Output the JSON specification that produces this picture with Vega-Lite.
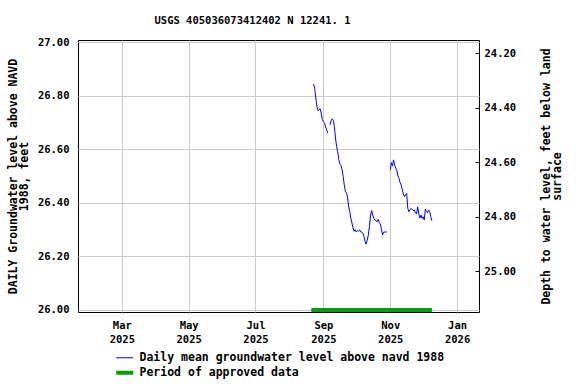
{
  "$schema": "https://vega.github.io/schema/vega-lite/v6.json",
  "autosize": {"type": "none"},
  "width": 401,
  "height": 272,
  "padding": {"left": 78, "top": 40, "right": 97, "bottom": 72},
  "background": "white",
  "title": {
    "text": "USGS 405036073412402 N 12241. 1",
    "font": "DejaVu Sans Mono",
    "fontWeight": "bold",
    "fontSize": 10.5,
    "color": "black",
    "anchor": "middle",
    "frame": "group",
    "baseline": "alphabetic",
    "dx": -26,
    "offset": 3
  },
  "config": {
    "font": "DejaVu Sans Mono",
    "view": {"stroke": "black", "strokeWidth": 1},
    "axis": {
      "labelFont": "DejaVu Sans Mono",
      "labelFontWeight": "bold",
      "labelFontSize": 10.5,
      "labelColor": "black",
      "titleFont": "DejaVu Sans Mono",
      "titleFontWeight": "bold",
      "titleFontSize": 11.5,
      "titleColor": "black",
      "gridColor": "#cccccc",
      "gridWidth": 1,
      "domain": false,
      "ticks": false
    }
  },
  "datasets": {
    "gw": [
      {"date": "2025-08-23", "level": 26.843},
      {"date": "2025-08-24", "level": 26.828},
      {"date": "2025-08-25", "level": 26.791},
      {"date": "2025-08-26", "level": 26.761},
      {"date": "2025-08-27", "level": 26.744},
      {"date": "2025-08-28", "level": 26.747},
      {"date": "2025-08-29", "level": 26.751},
      {"date": "2025-08-30", "level": 26.735},
      {"date": "2025-08-31", "level": 26.711},
      {"date": "2025-09-01", "level": 26.702},
      {"date": "2025-09-02", "level": 26.698},
      {"date": "2025-09-03", "level": 26.683},
      {"date": "2025-09-04", "level": 26.672},
      {"date": "2025-09-05", "level": 26.660},
      {"date": "2025-09-06", "level": null},
      {"date": "2025-09-07", "level": 26.691},
      {"date": "2025-09-08", "level": 26.706},
      {"date": "2025-09-09", "level": 26.713},
      {"date": "2025-09-10", "level": 26.708},
      {"date": "2025-09-11", "level": 26.685},
      {"date": "2025-09-12", "level": 26.642},
      {"date": "2025-09-13", "level": 26.611},
      {"date": "2025-09-14", "level": 26.592},
      {"date": "2025-09-15", "level": 26.561},
      {"date": "2025-09-16", "level": 26.545},
      {"date": "2025-09-17", "level": 26.540},
      {"date": "2025-09-18", "level": 26.524},
      {"date": "2025-09-19", "level": 26.499},
      {"date": "2025-09-20", "level": 26.468},
      {"date": "2025-09-21", "level": 26.443},
      {"date": "2025-09-22", "level": 26.437},
      {"date": "2025-09-23", "level": 26.422},
      {"date": "2025-09-24", "level": 26.387},
      {"date": "2025-09-25", "level": 26.368},
      {"date": "2025-09-26", "level": 26.343},
      {"date": "2025-09-27", "level": 26.325},
      {"date": "2025-09-28", "level": 26.306},
      {"date": "2025-09-29", "level": 26.294},
      {"date": "2025-09-30", "level": 26.300},
      {"date": "2025-10-01", "level": 26.291},
      {"date": "2025-10-02", "level": 26.296},
      {"date": "2025-10-03", "level": 26.295},
      {"date": "2025-10-04", "level": 26.299},
      {"date": "2025-10-05", "level": 26.291},
      {"date": "2025-10-06", "level": 26.290},
      {"date": "2025-10-07", "level": 26.287},
      {"date": "2025-10-08", "level": 26.275},
      {"date": "2025-10-09", "level": 26.256},
      {"date": "2025-10-10", "level": 26.246},
      {"date": "2025-10-11", "level": 26.261},
      {"date": "2025-10-12", "level": 26.280},
      {"date": "2025-10-13", "level": 26.311},
      {"date": "2025-10-14", "level": 26.354},
      {"date": "2025-10-15", "level": 26.371},
      {"date": "2025-10-16", "level": 26.354},
      {"date": "2025-10-17", "level": 26.342},
      {"date": "2025-10-18", "level": 26.336},
      {"date": "2025-10-19", "level": 26.333},
      {"date": "2025-10-20", "level": 26.329},
      {"date": "2025-10-21", "level": 26.338},
      {"date": "2025-10-22", "level": 26.326},
      {"date": "2025-10-23", "level": 26.321},
      {"date": "2025-10-24", "level": 26.299},
      {"date": "2025-10-25", "level": 26.280},
      {"date": "2025-10-26", "level": 26.290},
      {"date": "2025-10-27", "level": 26.291},
      {"date": "2025-10-28", "level": 26.291},
      {"date": "2025-10-29", "level": 26.291},
      {"date": "2025-10-30", "level": null},
      {"date": "2025-10-31", "level": null},
      {"date": "2025-11-01", "level": 26.522},
      {"date": "2025-11-02", "level": 26.550},
      {"date": "2025-11-03", "level": 26.537},
      {"date": "2025-11-04", "level": 26.560},
      {"date": "2025-11-05", "level": 26.541},
      {"date": "2025-11-06", "level": 26.529},
      {"date": "2025-11-07", "level": 26.520},
      {"date": "2025-11-08", "level": 26.500},
      {"date": "2025-11-09", "level": 26.491},
      {"date": "2025-11-10", "level": 26.475},
      {"date": "2025-11-11", "level": 26.466},
      {"date": "2025-11-12", "level": 26.448},
      {"date": "2025-11-13", "level": 26.433},
      {"date": "2025-11-14", "level": 26.423},
      {"date": "2025-11-15", "level": 26.429},
      {"date": "2025-11-16", "level": 26.435},
      {"date": "2025-11-17", "level": 26.379},
      {"date": "2025-11-18", "level": 26.367},
      {"date": "2025-11-19", "level": 26.375},
      {"date": "2025-11-20", "level": 26.378},
      {"date": "2025-11-21", "level": 26.376},
      {"date": "2025-11-22", "level": 26.371},
      {"date": "2025-11-23", "level": 26.373},
      {"date": "2025-11-24", "level": 26.363},
      {"date": "2025-11-25", "level": 26.358},
      {"date": "2025-11-26", "level": 26.385},
      {"date": "2025-11-27", "level": 26.361},
      {"date": "2025-11-28", "level": 26.343},
      {"date": "2025-11-29", "level": 26.354},
      {"date": "2025-11-30", "level": 26.342},
      {"date": "2025-12-01", "level": 26.348},
      {"date": "2025-12-02", "level": 26.336},
      {"date": "2025-12-03", "level": 26.376},
      {"date": "2025-12-04", "level": 26.367},
      {"date": "2025-12-05", "level": 26.363},
      {"date": "2025-12-06", "level": 26.373},
      {"date": "2025-12-07", "level": 26.367},
      {"date": "2025-12-08", "level": 26.348},
      {"date": "2025-12-09", "level": 26.333}
    ],
    "approved": [
      {"start": "2025-08-21", "end": "2025-12-09", "level": 26.0}
    ],
    "depthaxis": [
      {"depth": 24.2},
      {"depth": 25.0}
    ]
  },
  "layer": [
    {
      "layer": [
        {
          "data": {"name": "gw"},
          "mark": {"type": "line", "strokeWidth": 1, "invalid": "break-paths-show-domains", "clip": true},
          "encoding": {
            "x": {
              "field": "date",
              "type": "temporal",
              "scale": {
                "type": "utc",
                "domain": [
                  {"year": 2025, "month": 1, "date": 20, "utc": true},
                  {"year": 2026, "month": 1, "date": 21, "utc": true}
                ]
              },
              "axis": {
                "title": null,
                "values": [
                  {"year": 2025, "month": 3, "date": 1, "utc": true},
                  {"year": 2025, "month": 5, "date": 1, "utc": true},
                  {"year": 2025, "month": 7, "date": 1, "utc": true},
                  {"year": 2025, "month": 9, "date": 1, "utc": true},
                  {"year": 2025, "month": 11, "date": 1, "utc": true},
                  {"year": 2026, "month": 1, "date": 1, "utc": true}
                ],
                "labelExpr": "[utcFormat(datum.value, '%b'), utcFormat(datum.value, '%Y')]",
                "labelLineHeight": 14,
                "labelPadding": 8.5,
                "labelBaseline": "top",
                "grid": true
              }
            },
            "y": {
              "field": "level",
              "type": "quantitative",
              "scale": {"domain": [25.9925, 27.0075], "zero": false, "nice": false},
              "axis": {
                "orient": "left",
                "values": [26.0, 26.2, 26.4, 26.6, 26.8, 27.0],
                "format": ".2f",
                "labelPadding": 9,
                "grid": true,
                "title": ["DAILY Groundwater level above NAVD", "1988, feet"],
                "titleLineHeight": 11,
                "titlePadding": 8
              }
            },
            "color": {
              "datum": "Daily mean groundwater level above navd 1988",
              "type": "nominal",
              "scale": {
                "domain": ["Daily mean groundwater level above navd 1988", "Period of approved data"],
                "range": ["#0000FF", "#00A000"]
              },
              "legend": {
                "title": null,
                "orient": "none",
                "legendX": 41,
                "legendY": 312,
                "padding": 0,
                "symbolType": "stroke",
                "symbolSize": 289,
                "rowPadding": 0,
                "labelOffset": 9,
                "labelFont": "DejaVu Sans Mono",
                "labelFontWeight": "bold",
                "labelFontSize": 11.5,
                "labelColor": "black",
                "labelLimit": 500,
                "encode": {
                  "symbols": {
                    "update": {
                      "strokeWidth": {"signal": "datum.value === 'Period of approved data' ? 4 : 1"}
                    }
                  }
                }
              }
            }
          }
        },
        {
          "data": {"name": "approved"},
          "mark": {"type": "rule", "strokeWidth": 4, "strokeCap": "butt"},
          "encoding": {
            "x": {"field": "start", "type": "temporal"},
            "x2": {"field": "end"},
            "y": {"field": "level", "type": "quantitative"},
            "color": {"datum": "Period of approved data", "type": "nominal"}
          }
        }
      ]
    },
    {
      "data": {"name": "depthaxis"},
      "mark": {"type": "rule", "opacity": 0},
      "encoding": {
        "y": {
          "field": "depth",
          "type": "quantitative",
          "scale": {"domain": [24.152, 25.150], "reverse": true, "zero": false, "nice": false},
          "axis": {
            "orient": "right",
            "values": [24.2, 24.4, 24.6, 24.8, 25.0],
            "format": ".2f",
            "grid": false,
            "ticks": true,
            "tickSize": -4,
            "tickColor": "black",
            "labelPadding": 9,
            "title": ["Depth to water level, feet below land", "surface"],
            "titleAngle": 270,
            "titleBaseline": "top",
            "titleLineHeight": 11,
            "titlePadding": 14
          }
        }
      }
    }
  ],
  "resolve": {"scale": {"y": "independent"}}
}
